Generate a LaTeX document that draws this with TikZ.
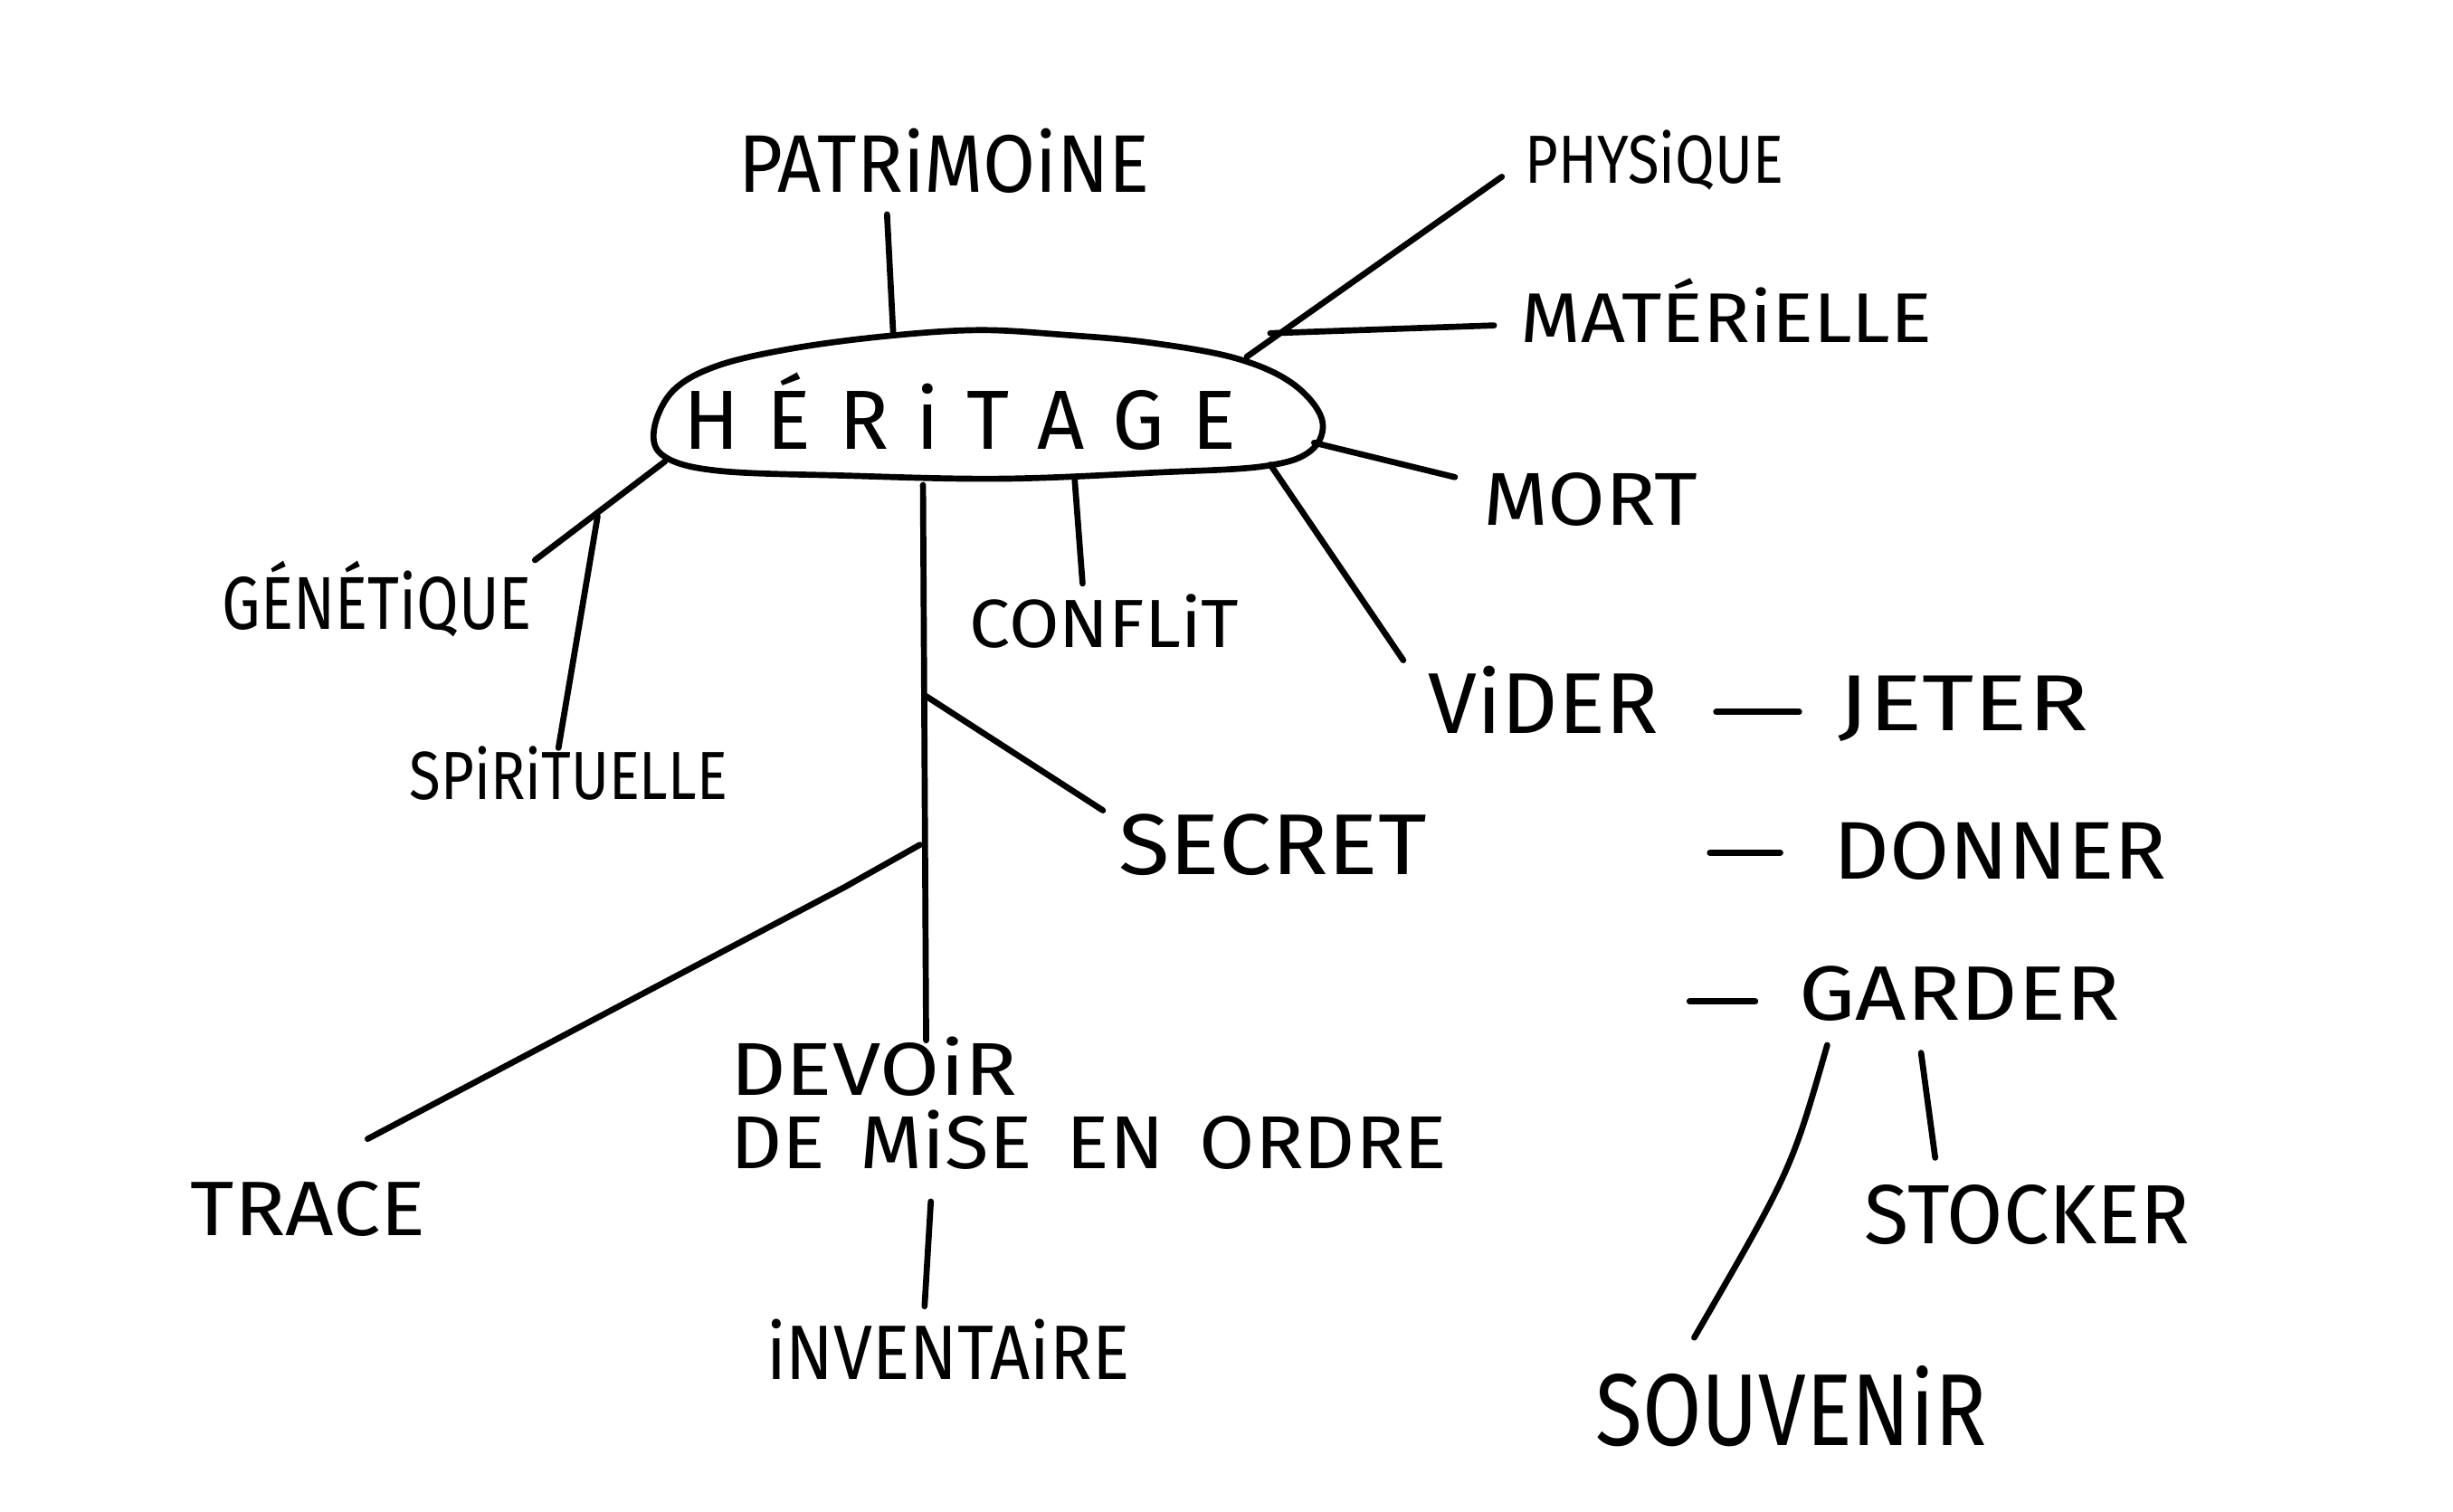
\documentclass[tikz,border=0pt]{standalone}
\usepackage{fontspec}
\setmainfont{Fira Sans}
\usepackage{graphicx}
\newlength\pxu
\setlength\pxu{0.01cm}
\newcommand{\lbl}[3]{\resizebox{#1\pxu}{#2\pxu}{\raisebox{0pt}[\fontcharht\font`X][0pt]{#3}}}
\begin{document}
\begin{tikzpicture}[x=0.01cm,y=-0.01cm,
  lab/.style={anchor=base west, inner sep=0pt, outer sep=0pt},
  ln/.style={line width=1.1pt, line cap=round, line join=round}]
\fill[white] (0,0) rectangle (1568,966);
\useasboundingbox (0,0) rectangle (1568,966);

% central blob
\draw[ln] plot[smooth cycle, tension=0.6] coordinates {(418,275) (430,250) (458,234) (505,223) (565,215) (625,211) (680,214) (735,219) (790,229) (826,245) (845,268) (838,288) (808,298) (740,302) (640,306) (540,304) (460,301) (425,292)};
\node[lab] (her) at (437,287) {\lbl{353}{37}{H\,\,É\,\,R\,\,i\,\,T\,\,A\,\,G\,\,E}};

% labels
\node[lab] (pat) at (472,123) {\lbl{263}{36}{PATRiMOiNE}};
\node[lab] (phy) at (975,117) {\lbl{165}{30}{PHYSiQUE}};
\node[lab] (mat) at (972,219) {\lbl{263}{31}{MATÉRiELLE}};
\node[lab] (mor) at (948,336) {\lbl{137}{33}{MORT}};
\node[lab] (vid) at (913,469) {\lbl{147}{38}{ViDER}};
\node[lab] (jet) at (1175,467) {\lbl{160}{35}{JETER}};
\node[lab] (don) at (1172,562) {\lbl{213}{36}{DONNER}};
\node[lab] (gar) at (1150,652) {\lbl{205}{34}{GARDER}};
\node[lab] (sto) at (1192,795) {\lbl{208}{37}{STOCKER}};
\node[lab] (sou) at (1020,924) {\lbl{250}{45}{SOUVENiR}};
\node[lab] (con) at (620,414) {\lbl{172}{30}{CONFLiT}};
\node[lab] (sec) at (715,559) {\lbl{197}{38}{SECRET}};
\node[lab] (gen) at (142,402) {\lbl{198}{33}{GÉNÉTiQUE}};
\node[lab] (spi) at (262,511) {\lbl{203}{30}{SPiRiTUELLE}};
\node[lab] (tra) at (122,790) {\lbl{150}{34}{TRACE}};
\node[lab] (dev) at (467,700) {\lbl{183}{33}{DEVOiR}};
\node[lab] (dmo) at (467,747) {\lbl{458}{33}{DE\, MiSE\, EN\, ORDRE}};
\node[lab] (inv) at (490,882) {\lbl{232}{34}{iNVENTAiRE}};

% connector end points
\coordinate (patA) at (567,137); \coordinate (patB) at (571,214);
\coordinate (phyA) at (960,113); \coordinate (phyB) at (797,228);
\coordinate (matA) at (955,208); \coordinate (matB) at (812,213);
\coordinate (morA) at (930,305); \coordinate (morB) at (840,283);
\coordinate (vidA) at (897,422); \coordinate (vidB) at (812,297);
\coordinate (conA) at (692,373); \coordinate (conB) at (687,307);
\coordinate (trkA) at (590,310); \coordinate (trkB) at (592,665);
\coordinate (secA) at (592,445); \coordinate (secB) at (705,518);
\coordinate (traA) at (588,540); \coordinate (traM) at (540,567); \coordinate (traB) at (235,728);
\coordinate (genA) at (425,295); \coordinate (genB) at (342,358);
\coordinate (spiA) at (382,330); \coordinate (spiB) at (357,478);
\coordinate (invA) at (595,768); \coordinate (invB) at (591,835);
\coordinate (souA) at (1168,668); \coordinate (souB) at (1083,855);
\coordinate (stoA) at (1228,673); \coordinate (stoB) at (1237,740);
\coordinate (d1a) at (1097,455); \coordinate (d1b) at (1150,455);
\coordinate (d2a) at (1093,545); \coordinate (d2b) at (1138,545);
\coordinate (d3a) at (1080,640); \coordinate (d3b) at (1122,640);

% connectors
\draw[ln] (patA) -- (patB);
\draw[ln] (phyA) -- (phyB);
\draw[ln] (matA) -- (matB);
\draw[ln] (morA) -- (morB);
\draw[ln] (vidA) -- (vidB);
\draw[ln] (conA) -- (conB);
\draw[ln] (trkA) -- (trkB);
\draw[ln] (secA) -- (secB);
\draw[ln] (traA) -- (traM) -- (traB);
\draw[ln] (genA) -- (genB);
\draw[ln] (spiA) -- (spiB);
\draw[ln] (invA) -- (invB);
\draw[ln] (souA) .. controls (1145,748) .. (souB);
\draw[ln] (stoA) -- (stoB);
\draw[ln] (d1a) -- (d1b);
\draw[ln] (d2a) -- (d2b);
\draw[ln] (d3a) -- (d3b);
\end{tikzpicture}
\end{document}
